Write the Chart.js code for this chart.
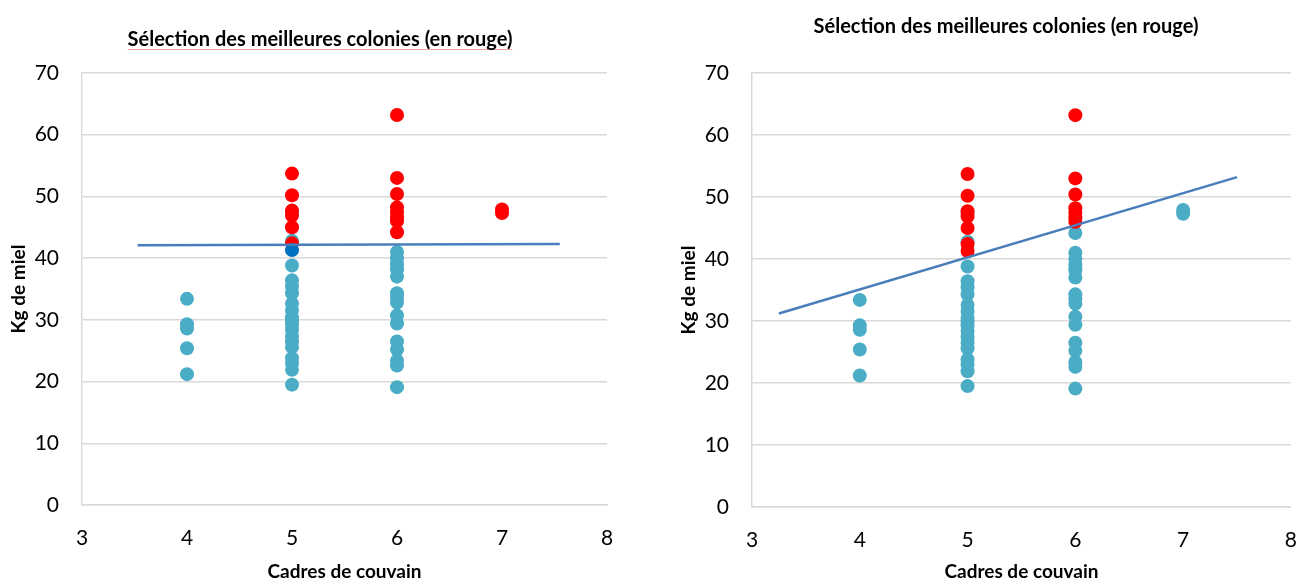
<!DOCTYPE html>
<html lang="fr">
<head>
<meta charset="utf-8">
<script src="https://cdn.jsdelivr.net/npm/chart.js@4/dist/chart.umd.min.js"></script>
<style>
    body { margin: 0; background: #fff; }
    #page { position: relative; width: 1310px; height: 580px; overflow: hidden; }
    .box { position: absolute; top: 0; width: 655px; height: 580px; }
    .titre {
        position: absolute;
        transform: translate(-50%, -50%);
        font-family: Lato, sans-serif;
        font-weight: bold;
        font-size: 20px;
        white-space: nowrap;
        color: #000;
    }
    #titreGauche {
        left: 320px; top: 38px;
        text-decoration: underline; text-decoration-color: #f4a6a6;
        text-decoration-thickness: 1px; text-underline-offset: 3px;
    }
    #titreDroite { left: 1006px; top: 25px; }
</style>
</head>
<body>
<div id="page">
    <div class="box" style="left:0"><canvas id="gauche"></canvas></div>
    <div class="box" style="left:655px"><canvas id="droite"></canvas></div>
    <div class="titre" id="titreGauche">Sélection des meilleures colonies (en rouge)</div>
    <div class="titre" id="titreDroite">Sélection des meilleures colonies (en rouge)</div>
</div>
<script>
// Axes
const xTicks = [3, 4, 5, 6, 7, 8];
const yTicks = [0, 10, 20, 30, 40, 50, 60, 70];

// Colonies en turquoise (communes aux deux graphiques)
const autresX = [4, 4, 4, 4, 4,
    5, 5, 5, 5, 5, 5, 5, 5, 5, 5, 5, 5, 5, 5, 5, 5, 5, 5, 5,
    6, 6, 6, 6, 6, 6, 6, 6, 6, 6, 6, 6, 6, 6, 6];
const autresY = [33.4, 29.3, 28.6, 25.4, 21.2,
    47.4, 42.8, 38.8, 36.4, 35.4, 34.3, 32.6, 31.5, 30.4, 29.9, 29.3, 28.4, 27.4, 26.5, 25.6, 23.8, 23.0, 21.9, 19.5,
    41.0, 40.0, 39.0, 38.2, 37.0, 34.3, 33.6, 32.8, 30.7, 29.4, 26.5, 25.2, 23.4, 22.6, 19.1];

// Graphique de gauche : sélection au-dessus de 42 kg
const gaucheRougeX = [5, 5, 5, 5, 5, 5, 6, 6, 6, 6, 6, 6, 6, 6, 7, 7];
const gaucheRougeY = [53.7, 50.2, 47.7, 46.9, 45.0, 42.4, 63.2, 53.0, 50.4, 48.2, 47.4, 46.6, 46.0, 44.2, 47.9, 47.3];
const gaucheFonceX = [5];
const gaucheFonceY = [41.3];
const gaucheTendX = [3.53, 7.55];
const gaucheTendY = [42.1, 42.3];

// Graphique de droite : sélection au-dessus de la tendance
const droiteRougeX = [5, 5, 5, 5, 5, 5, 5, 6, 6, 6, 6, 6, 6, 6];
const droiteRougeY = [53.7, 50.2, 47.7, 46.9, 45.0, 42.4, 41.3, 63.2, 53.0, 50.4, 48.2, 47.4, 46.6, 46.0];
const droiteAutresX = [6, 7, 7];
const droiteAutresY = [44.2, 47.9, 47.3];
const droiteTendX = [3.25, 7.5];
const droiteTendY = [31.2, 53.2];

const turquoise = "#4bacc6";
const rouge = "#ff0000";
const bleuFonce = "#0070c0";
const bleuLigne = "#4a7ebb";
const gris = "#d9d9d9";

Chart.defaults.font.family = "Lato, sans-serif";
Chart.defaults.color = "#000";

const points = (xs, ys) => xs.map((x, i) => ({ x: x, y: ys[i] }));

function nuage(data, color) {
    return { data: data, backgroundColor: color, borderWidth: 0, pointRadius: 7, pointHoverRadius: 7 };
}

function tendance(xs, ys) {
    return {
        data: points(xs, ys), showLine: true, borderColor: bleuLigne, borderWidth: 2.5,
        pointRadius: 0, pointHoverRadius: 0
    };
}

function makeChart(id, datasets, pad, yWidth, xHeight) {
    return new Chart(document.getElementById(id), {
        type: "scatter",
        data: { datasets: datasets },
        options: {
            responsive: true,
            maintainAspectRatio: false,
            animation: false,
            layout: { padding: pad },
            plugins: { legend: { display: false }, tooltip: { enabled: false } },
            scales: {
                x: {
                    min: xTicks[0], max: xTicks[xTicks.length - 1],
                    afterFit: (scale) => { scale.height = xHeight; },
                    afterBuildTicks: (scale) => { scale.ticks = xTicks.map(v => ({ value: v })); },
                    grid: { display: false },
                    border: { display: true, color: gris, width: 1.5 },
                    ticks: { font: { size: 21 }, padding: 13 },
                    title: { display: true, text: "Cadres de couvain", font: { size: 19, weight: "bold" }, padding: { top: 0, bottom: -3 } }
                },
                y: {
                    min: yTicks[0], max: yTicks[yTicks.length - 1],
                    afterFit: (scale) => { scale.width = yWidth; },
                    afterBuildTicks: (scale) => { scale.ticks = yTicks.map(v => ({ value: v })); },
                    grid: { color: gris, lineWidth: 1.5, drawTicks: false },
                    border: { display: true, color: gris, width: 1.5 },
                    ticks: { font: { size: 21 }, padding: 23 },
                    title: { display: true, text: "Kg de miel", font: { size: 19, weight: "bold" }, padding: 0 }
                }
            }
        }
    });
}

makeChart("gauche", [
    tendance(gaucheTendX, gaucheTendY),
    nuage(points(gaucheFonceX, gaucheFonceY), bleuFonce),
    nuage(points(gaucheRougeX, gaucheRougeY), rouge),
    nuage(points(autresX, autresY), turquoise)
], { top: 73, left: 7, right: 48, bottom: 0 }, 75, 75);

makeChart("droite", [
    tendance(droiteTendX, droiteTendY),
    nuage(points(droiteRougeX, droiteRougeY), rouge),
    nuage(points(autresX.concat(droiteAutresX), autresY.concat(droiteAutresY)), turquoise)
], { top: 73, left: 22, right: 8, bottom: 0 }, 75, 73);
</script>
</body>
</html>
